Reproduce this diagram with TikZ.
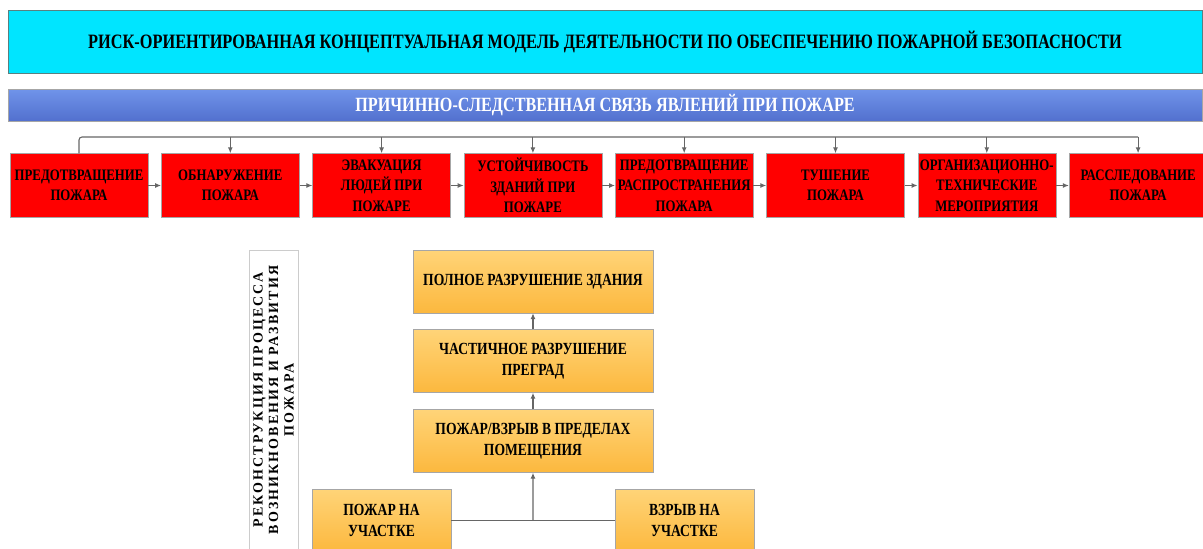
\documentclass[tikz,border=0pt]{standalone}
\usepackage{fontspec}
\setmainfont{Liberation Serif}[FakeStretch=0.8]
\newfontfamily\sidefont{Liberation Serif}[LetterSpace=15]
\usetikzlibrary{calc,arrows.meta}
\definecolor{titlecyan}{RGB}{0,229,255}
\definecolor{barTop}{RGB}{112,148,234}
\definecolor{barBot}{RGB}{82,112,206}
\definecolor{boxTop}{RGB}{255,212,120}
\definecolor{boxBot}{RGB}{252,184,62}

\begin{document}
\begin{tikzpicture}[x=1pt,y=-1pt,
    redbox/.style={draw=gray!70,fill=red,minimum width=138pt,minimum height=64pt,
        inner sep=1pt,align=center,font=\bfseries\fontsize{16}{20.5}\selectfont},
    orangebox/.style={draw=gray!70,top color=boxTop,bottom color=boxBot,
        minimum height=63pt,inner sep=1pt,align=center,
        font=\bfseries\fontsize{17}{20.5}\selectfont},
    line/.style={draw=gray!80!black,line width=1.1pt},
    link/.style={line,-{Latex[length=6pt,width=5pt]}}]
        \useasboundingbox (0,0) rectangle (1203,549);
        \node[draw=gray!70!teal,fill=titlecyan,minimum width=1194pt,minimum height=63pt,
            font=\bfseries\fontsize{20.4}{24}\selectfont] (title) at (605,41.5)
            {РИСК-ОРИЕНТИРОВАННАЯ КОНЦЕПТУАЛЬНАЯ МОДЕЛЬ ДЕЯТЕЛЬНОСТИ ПО ОБЕСПЕЧЕНИЮ ПОЖАРНОЙ БЕЗОПАСНОСТИ};
        \node[draw=gray!70,top color=barTop,bottom color=barBot,minimum width=1194pt,
            minimum height=32pt,text=white,font=\bfseries\fontsize{20.2}{24}\selectfont] (bar)
            at (605,105) {ПРИЧИННО-СЛЕДСТВЕННАЯ СВЯЗЬ ЯВЛЕНИЙ ПРИ ПОЖАРЕ};
        \foreach \i/\t in {1/{ПРЕДОТВРАЩЕНИЕ\\ПОЖАРА},2/{ОБНАРУЖЕНИЕ\\ПОЖАРА},
            3/{ЭВАКУАЦИЯ\\ЛЮДЕЙ ПРИ\\ПОЖАРЕ},4/{УСТОЙЧИВОСТЬ\\ЗДАНИЙ ПРИ\\ПОЖАРЕ},
            5/{ПРЕДОТВРАЩЕНИЕ\\РАСПРОСТРАНЕНИЯ\\ПОЖАРА},6/{ТУШЕНИЕ\\ПОЖАРА},
            7/{ОРГАНИЗАЦИОННО-\\ТЕХНИЧЕСКИЕ\\МЕРОПРИЯТИЯ},8/{РАССЛЕДОВАНИЕ\\ПОЖАРА}}
        \node[redbox] (r\i) at ({79+151.3*(\i-1)},185.5) {\t};
        \coordinate (bus) at (0,137);
        \draw[line,rounded corners=3pt] (r1.north) |- (r8.north |- bus);
        \foreach \i in {2,...,8}
        \draw[link] (r\i.north |- bus) -- (r\i.north);
        \foreach \i [evaluate=\i as \j using int(\i+1)] in {1,...,7}
        \draw[link] (r\i) -- (r\j);
        \node[draw=gray!40,fill=white,rotate=90,minimum width=300pt,minimum height=49pt,
            align=center,font=\sidefont\bfseries\fontsize{14}{15.5}\selectfont] (side)
            at (273.5,400) {РЕКОНСТРУКЦИЯ ПРОЦЕССА\\ВОЗНИКНОВЕНИЯ И РАЗВИТИЯ\\ПОЖАРА};
        \node[orangebox,minimum width=240pt] (ruin) at (533,281.5) {ПОЛНОЕ РАЗРУШЕНИЕ ЗДАНИЯ};
        \node[orangebox,minimum width=240pt] (wall) at (533,361) {ЧАСТИЧНОЕ РАЗРУШЕНИЕ\\ПРЕГРАД};
        \node[orangebox,minimum width=240pt] (room) at (533,441) {ПОЖАР/ВЗРЫВ В ПРЕДЕЛАХ\\ПОМЕЩЕНИЯ};
        \node[orangebox,minimum width=139pt] (fire) at (381.5,520.5) {ПОЖАР НА\\УЧАСТКЕ};
        \node[orangebox,minimum width=139pt] (blast) at (684.5,520.5) {ВЗРЫВ НА\\УЧАСТКЕ};
        \coordinate (join) at ($(fire.east)!.5!(blast.west)$);
        \draw[line] (fire.east) -- (blast.west);
        \draw[link] (join) -- (room.south);
        \draw[link] (room) -- (wall);
        \draw[link] (wall) -- (ruin);
    \end{tikzpicture}
\end{document}
